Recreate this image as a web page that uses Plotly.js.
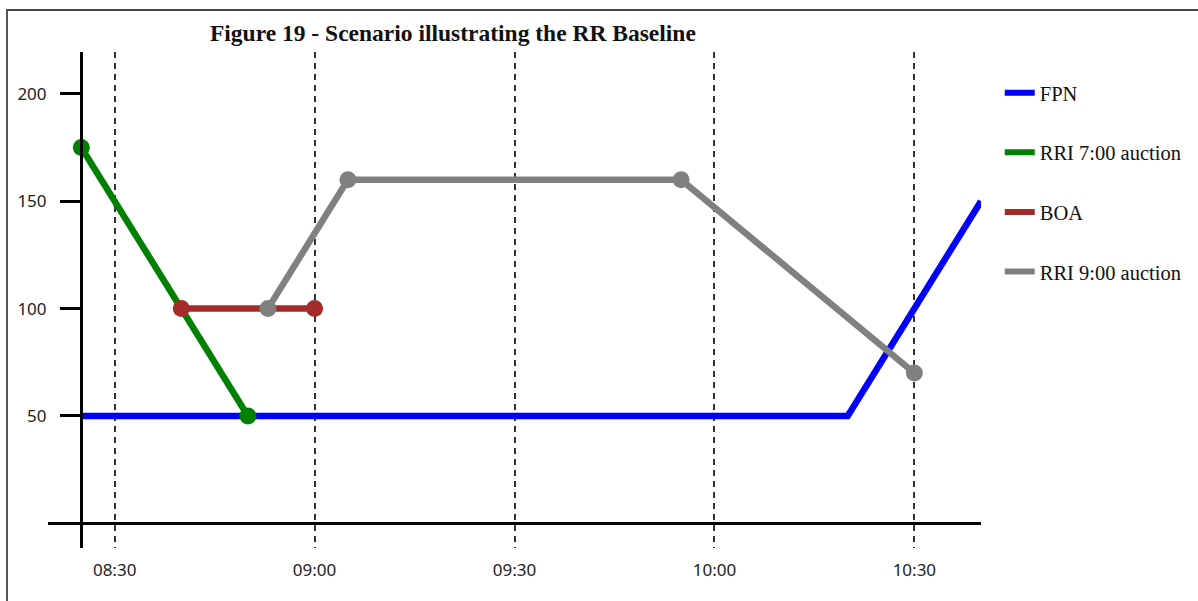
<!DOCTYPE html>
<html>
<head>
<meta charset="utf-8">
<script src="https://cdn.plot.ly/plotly-3.0.1.min.js"></script>
<style>
  html, body { margin: 0; padding: 0; background: #fff; }
  #chart { position: absolute; left: 0; top: 0; width: 1198px; height: 601px; }
  #frame { position: absolute; left: 6px; top: 9px; width: 1200px; height: 600px;
           border-top: 2px solid #444; border-left: 2px solid #555; pointer-events: none; }
</style>
</head>
<body>
<div id="chart"></div>
<div id="frame"></div>
<script>
// ---- data ----
const day = '2024-01-01 ';
const seriesNames = ['FPN', 'RRI 7:00 auction', 'BOA', 'RRI 9:00 auction'];
const fpnTimes = ['08:25', '10:20', '10:40'];
const fpnValues = [50, 50, 150];
const rri7Times = ['08:25', '08:50'];
const rri7Values = [175, 50];
const boaTimes = ['08:40', '09:00'];
const boaValues = [100, 100];
const rri9Times = ['08:53', '09:05', '09:55', '10:30'];
const rri9Values = [100, 160, 160, 70];
const xTickTimes = ['08:30', '09:00', '09:30', '10:00', '10:30'];
const xTickLabels = ['08:30', '09:00', '09:30', '10:00', '10:30'];
const yTickValues = [50, 100, 150, 200];
const xRange = ['08:20', '10:40'];
const yRange = [-11.5, 219.5];

const colors = ['#0000ff', '#008000', '#a52a2a', '#808080'];
const toDate = arr => arr.map(t => day + t);

function series(name, times, values, color, markers) {
  return {
    type: 'scatter',
    mode: markers ? 'lines+markers' : 'lines',
    name: name,
    showlegend: false,
    x: toDate(times),
    y: values,
    line: { color: color, width: 6.5 },
    marker: { color: color, size: 17 },
    cliponaxis: false
  };
}

const traces = [
  series(seriesNames[0], fpnTimes, fpnValues, colors[0], false),
  series(seriesNames[1], rri7Times, rri7Values, colors[1], true),
  series(seriesNames[2], boaTimes, boaValues, colors[2], true),
  series(seriesNames[3], rri9Times, rri9Values, colors[3], true)
];
// legend entries (line only, as in the reference legend)
seriesNames.forEach((n, i) => {
  traces.push({
    type: 'scatter', mode: 'lines', name: n, legendgroup: n,
    x: [null], y: [null], showlegend: true,
    line: { color: colors[i], width: 6 }
  });
});

const plotLeft = 48, plotRight = 982;
const layout = {
  width: 1198,
  height: 601,
  margin: { l: plotLeft, r: 1198 - plotRight, t: 52, b: 53, pad: 0 },
  paper_bgcolor: '#fff',
  plot_bgcolor: '#fff',
  showlegend: true,
  title: {
    text: 'Figure 19 - Scenario illustrating the RR Baseline',
    font: { family: 'Liberation Serif, Times New Roman, serif', size: 23.5, color: '#111', weight: 'bold' },
    xref: 'paper', x: 0.434, xanchor: 'center',
    yref: 'container', y: 1 - 33 / 601, yanchor: 'middle'
  },
  xaxis: {
    type: 'date',
    range: toDate(xRange),
    tickmode: 'array',
    tickvals: toDate(xTickTimes),
    ticktext: xTickLabels,
    showgrid: true,
    griddash: '6px,5px',
    gridcolor: '#333',
    gridwidth: 2,
    showline: false,
    zeroline: false,
    ticks: '',
    ticklabelstandoff: 10,
    tickfont: { family: 'Noto Sans, Liberation Sans, sans-serif', size: 17, color: '#222' },
    fixedrange: true
  },
  yaxis: {
    range: yRange,
    anchor: 'free',
    position: 33 / (plotRight - plotLeft),
    tickmode: 'array',
    tickvals: yTickValues,
    showline: true,
    linewidth: 3,
    linecolor: '#000',
    ticks: 'outside',
    ticklen: 20,
    tickwidth: 3,
    tickcolor: '#000',
    ticklabelstandoff: 10,
    showgrid: false,
    zeroline: true,
    zerolinewidth: 3,
    zerolinecolor: '#000',
    tickfont: { family: 'Noto Sans, Liberation Sans, sans-serif', size: 17, color: '#222' },
    fixedrange: true
  },
  legend: {
    x: 1.019, xanchor: 'left',
    y: 0.958, yanchor: 'top',
    traceorder: 'grouped',
    tracegroupgap: 30,
    font: { family: 'Liberation Serif, Times New Roman, serif', size: 20.5, color: '#111' },
    bgcolor: 'rgba(0,0,0,0)'
  }
};

Plotly.newPlot('chart', traces, layout, { displayModeBar: false, staticPlot: true });
</script>
</body>
</html>
